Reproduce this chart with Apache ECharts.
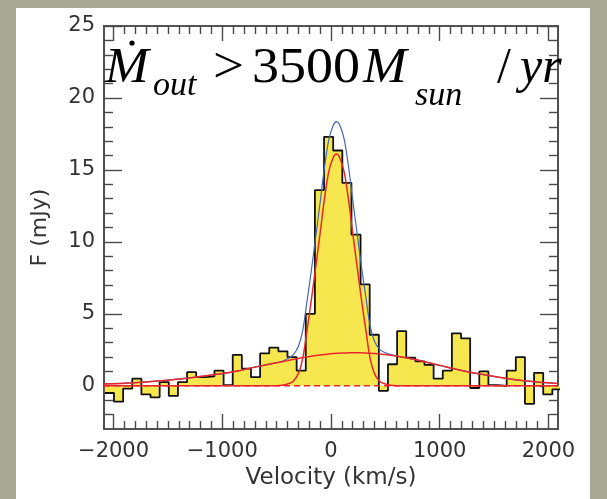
<!DOCTYPE html>
<html>
<head>
<meta charset="utf-8">
<script src="https://cdn.jsdelivr.net/npm/echarts@6/dist/echarts.min.js"></script>
<style>
html,body{margin:0;padding:0;background:#a8a895;}
#c{width:607px;height:499px;}
</style>
</head>
<body>
<div id="c"></div>
<script>
// ---- data ----
const X_MIN = -2088, X_MAX = 2088;
const Y_MIN = -3, Y_MAX = 25;

// histogram channel edges (km/s) and flux per channel (mJy)
const binEdges = [-2080, -1996, -1912, -1828, -1744, -1660, -1576, -1492, -1408, -1324,
  -1240, -1156, -1072, -988, -904, -820, -736, -652, -568, -484,
  -400, -316, -232, -148, -64, 20, 104, 188, 272, 356,
  440, 524, 608, 692, 776, 860, 944, 1028, 1112, 1196,
  1280, 1364, 1448, 1532, 1616, 1700, 1784, 1868, 1952, 2036, 2120];
const fluxValues = [-0.5, -1.1, -0.2, 0.5, -0.6, -0.8, 0.25, -0.7, 0.25, 0.95,
  0.6, 0.65, 1.05, 0.05, 2.15, 1.2, 0.6, 2.25, 2.65, 2.4,
  2.0, 1.05, 5.0, 13.6, 17.3, 16.35, 14.1, 10.5, 7.05, 3.55,
  -0.35, 1.5, 3.8, 1.95, 1.7, 1.45, 0.5, 1.05, 3.65, 3.3,
  -0.15, 1.0, 0.05, 0.0, 1.05, 2.0, -1.25, 0.9, -0.6, -0.25];

// fit curves sampled at these velocities
const curveV = [-2088, -1800, -1500, -1200, -900, -700, -550, -450, -400, -350,
  -300, -260, -220, -180, -140, -100, -60, -20, 20, 50,
  80, 120, 160, 200, 240, 280, 320, 360, 400, 450,
  500, 550, 650, 800, 1000, 1200, 1400, 1600, 1800, 2088];
const narrowComp = [0, 0, 0, 0, 0, 0, 0, 0.04, 0.13, 0.3,
  0.85, 1.9, 3.9, 6.0, 8.3, 10.6, 13.0, 14.9, 15.85, 16.1,
  15.85, 14.9, 13.0, 10.6, 8.3, 6.0, 3.9, 1.9, 0.85, 0.3,
  0.13, 0.04, 0, 0, 0, 0, 0, 0, 0, 0];
const broadComp = [0.13, 0.22, 0.39, 0.65, 0.97, 1.3, 1.53, 1.67, 1.75, 1.83,
  1.9, 1.96, 2.01, 2.06, 2.1, 2.14, 2.18, 2.21, 2.24, 2.26,
  2.27, 2.28, 2.29, 2.3, 2.3, 2.29, 2.28, 2.26, 2.24, 2.21,
  2.17, 2.13, 2.0, 1.78, 1.42, 1.07, 0.78, 0.53, 0.33, 0.16];
const totalFit = [0.13, 0.22, 0.39, 0.65, 0.97, 1.3, 1.53, 1.71, 1.88, 2.13,
  2.75, 3.86, 5.91, 8.06, 10.4, 12.74, 15.18, 17.11, 18.09, 18.36,
  18.12, 17.18, 15.29, 12.9, 10.6, 8.29, 6.18, 4.16, 3.09, 2.51,
  2.3, 2.17, 2.0, 1.78, 1.42, 1.07, 0.78, 0.53, 0.33, 0.16];
const zeroLine = [[X_MIN, 0], [X_MAX, 0]];

// tick positions / labels
const xMajorTicks = [-2000, -1000, 0, 1000, 2000];
const yMajorTicks = [0, 5, 10, 15, 20, 25];
const xMinorTicks = [];
for (let v = -1900; v <= 1900; v += 100) { if (v % 1000 !== 0) xMinorTicks.push(v); }
const yMinorTicks = [];
for (let v = -2; v <= 24; v += 1) { if (v % 5 !== 0) yMinorTicks.push(v); }

// ---- build ----
const histData = binEdges.map((e, i) => [e, i < fluxValues.length ? fluxValues[i] : fluxValues[fluxValues.length - 1]]);
const zip = (xs, ys) => xs.map((x, i) => [x, ys[i]]);

const frameColor = '#4a4a4a';
const labelFont = { fontFamily: 'DejaVu Sans', fontSize: 21, color: '#333' };
const minus = v => (v < 0 ? '\u2212' + Math.abs(v) : String(v));

function xAx(pos, ticks, len, withLabels) {
  return {
    type: 'value', position: pos, min: X_MIN, max: X_MAX, offset: 0,
    axisLine: { show: true, onZero: false, lineStyle: { color: frameColor, width: 1.6 } },
    axisTick: { show: true, inside: true, length: len, customValues: ticks, lineStyle: { color: frameColor, width: 1.4 } },
    axisLabel: withLabels ? Object.assign({ show: true, customValues: xMajorTicks, margin: 12, formatter: minus }, labelFont) : { show: false },
    splitLine: { show: false },
    name: withLabels ? 'Velocity (km/s)' : '',
    nameLocation: 'middle', nameGap: 38,
    nameTextStyle: { fontFamily: 'DejaVu Sans', fontSize: 23, color: '#333' }
  };
}
function yAx(pos, ticks, len, withLabels) {
  return {
    type: 'value', position: pos, min: Y_MIN, max: Y_MAX, offset: 0,
    axisLine: { show: true, onZero: false, lineStyle: { color: frameColor, width: 1.6 } },
    axisTick: { show: true, inside: true, length: len, customValues: ticks, lineStyle: { color: frameColor, width: 1.4 } },
    axisLabel: withLabels ? Object.assign({ show: true, customValues: yMajorTicks, margin: 9 }, labelFont) : { show: false },
    splitLine: { show: false },
    name: withLabels ? 'F (mJy)' : '',
    nameLocation: 'middle', nameGap: 53,
    nameTextStyle: { fontFamily: 'DejaVu Sans', fontSize: 22, color: '#333' }
  };
}

const serifIt = { fontFamily: 'Liberation Serif', fontStyle: 'italic', fill: '#000', verticalAlign: 'middle', textVerticalAlign: 'middle' };
const serifUp = { fontFamily: 'Liberation Serif', fill: '#000', verticalAlign: 'middle', textVerticalAlign: 'middle' };

const chart = echarts.init(document.getElementById('c'), null, { renderer: 'canvas' });
chart.setOption({
  animation: false,
  backgroundColor: '#a8a895',
  grid: { left: 104, right: 49, top: 26, bottom: 70, containLabel: false, outerBoundsMode: 'none' },
  xAxis: [
    xAx('bottom', xMajorTicks, 15, true),
    xAx('bottom', xMinorTicks, 8, false),
    xAx('top', xMajorTicks, 15, false),
    xAx('top', xMinorTicks, 8, false)
  ],
  yAxis: [
    yAx('left', yMajorTicks, 18, true),
    yAx('left', yMinorTicks, 9, false),
    yAx('right', yMajorTicks, 18, false),
    yAx('right', yMinorTicks, 9, false)
  ],
  series: [
    { type: 'line', data: histData, step: 'end', symbol: 'none', clip: true,
      lineStyle: { color: '#111', width: 1.8 },
      areaStyle: { color: '#f7e74f', opacity: 1, origin: 'auto' }, z: 2, silent: true },
    { type: 'line', data: zeroLine, symbol: 'none', clip: true,
      lineStyle: { color: '#e8262b', width: 1.5, type: [6, 4] }, z: 3, silent: true },
    { type: 'line', data: zip(curveV, totalFit), smooth: 0.35, symbol: 'none', clip: true,
      lineStyle: { color: '#4466b8', width: 1.2 }, z: 4, silent: true },
    { type: 'line', data: zip(curveV, broadComp), smooth: 0.35, symbol: 'none', clip: true,
      lineStyle: { color: '#e8262b', width: 1.5 }, z: 5, silent: true },
    { type: 'line', data: zip(curveV, narrowComp), smooth: 0.35, symbol: 'none', clip: true,
      lineStyle: { color: '#e8262b', width: 1.5 }, z: 5, silent: true }
  ],
  graphic: [
    { type: 'rect', z: -100, silent: true, shape: { x: 16, y: 8, width: 574, height: 495 }, style: { fill: '#ffffff' } },
    { type: 'text', z: 100, x: 105, y: 69, scaleX: 1.05, style: Object.assign({ text: 'M', fontSize: 50 }, serifIt) },
    { type: 'circle', z: 100, shape: { cx: 132, cy: 43, r: 2.6 }, style: { fill: '#000' } },
    { type: 'text', z: 100, x: 153, y: 86, style: Object.assign({ text: 'out', fontSize: 34 }, serifIt) },
    { type: 'text', z: 100, x: 213, y: 69, scaleX: 1.1, style: Object.assign({ text: '>', fontSize: 50 }, serifUp) },
    { type: 'text', z: 100, x: 252, y: 69, scaleX: 1.08, style: Object.assign({ text: '3500', fontSize: 50 }, serifUp) },
    { type: 'text', z: 100, x: 363, y: 69, scaleX: 1.05, style: Object.assign({ text: 'M', fontSize: 50 }, serifIt) },
    { type: 'text', z: 100, x: 415, y: 96, style: Object.assign({ text: 'sun', fontSize: 34 }, serifIt) },
    { type: 'text', z: 100, x: 497, y: 69, style: Object.assign({ text: '/', fontSize: 50 }, serifUp) },
    { type: 'text', z: 100, x: 520, y: 69, style: Object.assign({ text: 'yr', fontSize: 50 }, serifIt) }
  ]
});
</script>
</body>
</html>
